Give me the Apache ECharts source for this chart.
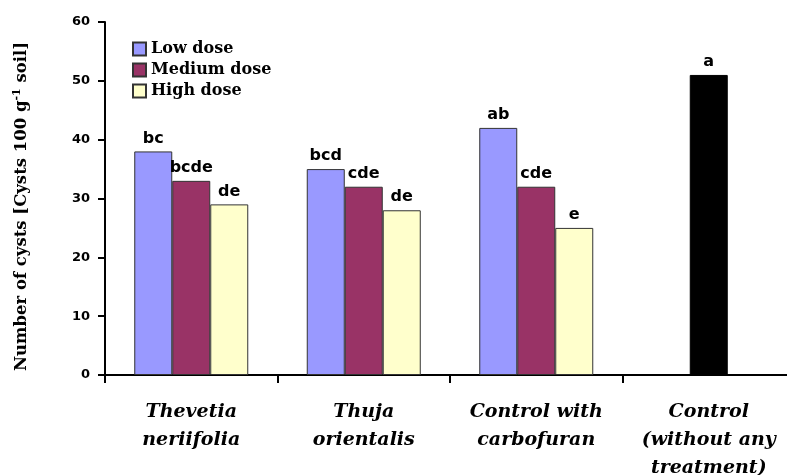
<!DOCTYPE html>
<html lang="en">
<head>
  <meta charset="UTF-8">
  <title>Number of cysts</title>
  <script src="https://cdn.jsdelivr.net/npm/echarts@6/dist/echarts.min.js"></script>
  <style>
    html, body { margin: 0; padding: 0; background: #fff; }
    #chart { width: 787px; height: 475px; }
  </style>
</head>
<body>
  <div id="chart"></div>
  <script>
    // data
    const categories = ['Thevetia\nneriifolia', 'Thuja\norientalis', 'Control with\ncarbofuran', 'Control\n(without any\ntreatment)'];
    const lowDose = [38, 35, 42];
    const mediumDose = [33, 32, 32];
    const highDose = [29, 28, 25];
    const controlValue = 51;
    const lowLetters = ['bc', 'bcd', 'ab'];
    const mediumLetters = ['bcde', 'cde', 'cde', 'a'];
    const highLetters = ['de', 'de', 'e'];
    const yTicks = { min: 0, max: 60, interval: 10 };

    const serif = "'DejaVu Serif', 'Liberation Serif', serif";
    const sans = "'DejaVu Sans', 'Liberation Sans', sans-serif";

    const chart = echarts.init(document.getElementById('chart'), null, { renderer: 'canvas' });

    function letterLabel(letters) {
      return {
        show: true,
        position: 'top',
        distance: 5,
        color: '#000',
        fontFamily: sans,
        fontWeight: 'bold',
        fontSize: 16,
        formatter: p => letters[p.dataIndex] || ''
      };
    }

    const border = { borderColor: '#333', borderWidth: 1 };

    const option = {
      animation: false,
      grid: { left: 105, right: -8, top: 22, bottom: 100, outerBoundsMode: 'none' },
      legend: {
        orient: 'vertical',
        left: 127,
        top: 36,
        itemWidth: 13,
        itemHeight: 13,
        itemGap: 5,
        icon: 'rect',
        data: ['Low dose', 'Medium dose', 'High dose'],
        textStyle: { fontFamily: serif, fontWeight: 'bold', fontSize: 16, color: '#000' }
      },
      xAxis: {
        type: 'category',
        data: categories,
        axisLine: { lineStyle: { color: '#000', width: 2 } },
        axisTick: { show: true, length: 8, lineStyle: { color: '#000', width: 2 } },
        axisLabel: {
          color: '#000',
          fontFamily: serif,
          fontStyle: 'italic',
          fontWeight: 'bold',
          fontSize: 19,
          lineHeight: 28,
          margin: 23,
          interval: 0
        }
      },
      yAxis: {
        type: 'value',
        min: yTicks.min,
        max: yTicks.max,
        interval: yTicks.interval,
        splitLine: { show: false },
        axisLine: { show: true, lineStyle: { color: '#000', width: 2 } },
        axisTick: { show: true, length: 7, lineStyle: { color: '#000', width: 2 } },
        axisLabel: { color: '#000', fontFamily: sans, fontWeight: 'bold', fontSize: 13, margin: 15 },
        name: '{a|Number of cysts [Cysts 100 g}{s|-1}{a| soil]}',
        nameLocation: 'middle',
        nameGap: 74,
        nameTextStyle: {
          padding: [0, 16, 0, 0],
          rich: {
            a: { fontFamily: serif, fontWeight: 'bold', fontSize: 16.5, color: '#000' },
            s: { fontFamily: serif, fontWeight: 'bold', fontSize: 11, color: '#000', verticalAlign: 'top', padding: [0, 0, 8, 0] }
          }
        }
      },
      series: [
        {
          name: 'Low dose',
          type: 'bar',
          barWidth: 38,
          barGap: '0%',
          data: lowDose.concat(['-']),
          itemStyle: Object.assign({ color: '#9999FF' }, border),
          label: letterLabel(lowLetters)
        },
        {
          name: 'Medium dose',
          type: 'bar',
          barWidth: 38,
          barGap: '0%',
          data: mediumDose.concat([{ value: controlValue, itemStyle: { color: '#000', borderColor: '#000' } }]),
          itemStyle: Object.assign({ color: '#993366' }, border),
          label: letterLabel(mediumLetters)
        },
        {
          name: 'High dose',
          type: 'bar',
          barWidth: 38,
          barGap: '0%',
          data: highDose.concat(['-']),
          itemStyle: Object.assign({ color: '#FFFFCC' }, border),
          label: letterLabel(highLetters)
        }
      ]
    };

    chart.setOption(option);
  </script>
</body>
</html>
